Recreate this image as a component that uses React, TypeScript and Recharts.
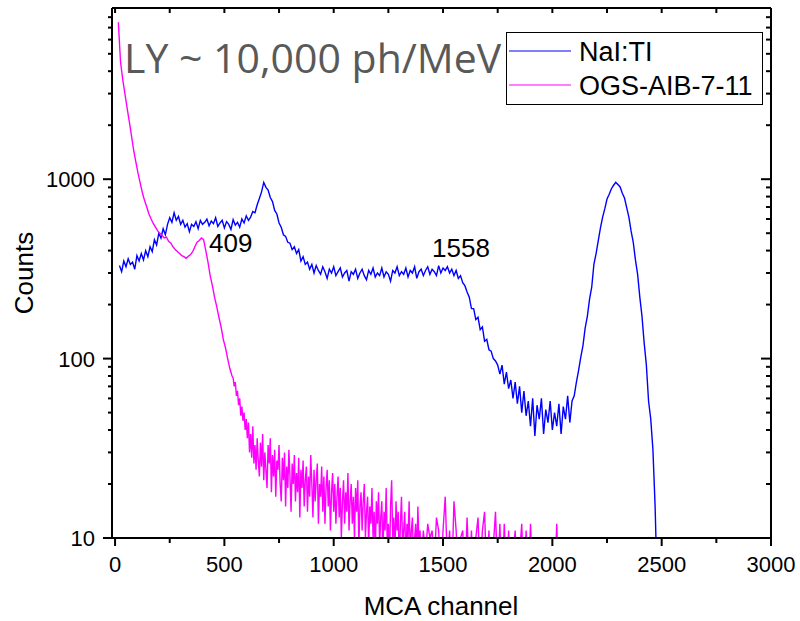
import { LineChart, Line, XAxis, YAxis } from "recharts"

// NaI:Tl spectrum, one value every 10 channels starting at channel 20
const NAI_START = 20
const NAI_STEP = 10
const NAI_COUNTS = [
	330, 305, 350, 325, 360, 335, 345, 315, 375, 350,
	385, 355, 400, 370, 420, 395, 460, 430, 500, 470,
	530, 490, 560, 610, 575, 650, 590, 620, 560, 590,
	540, 565, 510, 560, 545, 580, 530, 590, 560, 575,
	600, 550, 585, 565, 610, 545, 570, 590, 535, 580,
	560, 525, 595, 555, 575, 540, 600, 570, 625, 590,
	615, 660, 650, 720, 780, 850, 960, 900, 870, 790,
	750, 670, 640, 570, 540, 490, 480, 445, 440, 405,
	420, 385, 405, 350, 370, 335, 345, 315, 335, 300,
	330, 310, 295, 325, 305, 280, 315, 300, 325, 290,
	305, 320, 285, 300, 310, 270, 305, 295, 315, 280,
	300, 315, 290, 275, 310, 295, 320, 285, 300, 290,
	320, 285, 305, 295, 270, 310, 300, 325, 290, 305,
	295, 320, 285, 310, 300, 325, 280, 305, 315, 290,
	310, 325, 295, 315, 305, 290, 330, 300, 320, 310,
	325, 300, 315, 290, 310, 280, 290, 265, 255, 235,
	220, 190, 190, 165, 170, 145, 150, 125, 128, 112,
	110, 100, 97, 92, 82, 92, 72, 84, 68, 76,
	60, 74, 56, 70, 50, 66, 48, 58, 42, 60,
	37, 55, 46, 60, 38, 52, 44, 58, 40, 50,
	42, 56, 38, 54, 46, 62, 44, 58, 62, 74,
	86, 102, 118, 148, 172, 214, 250, 335, 385, 455,
	535, 615, 685, 775, 825, 885, 925, 960, 935, 905,
	835, 785, 695, 615, 515, 445, 355, 295, 220, 172,
	122, 92, 58, 46, 31, 15, 5,
]

// OGS-AIB-7-11 spectrum in three pieces: steep head, noisy band, sparse tail
const OGS_HEAD_START = 15
const OGS_HEAD_STEP = 10
const OGS_HEAD = [
	7500, 4500, 3600, 3000, 2500, 2100, 1750, 1450, 1250, 1080,
	950, 840, 760, 700, 640, 600, 565, 540, 515, 500,
	485, 470, 475, 450, 440, 420, 405, 395, 385, 375,
	370, 362, 372, 380, 395, 420, 445, 455, 470, 460,
	400, 345, 290, 255, 220, 195, 170, 150, 128, 115,
	100, 88, 80,
]

const OGS_BAND_START = 540
const OGS_BAND_STEP = 5
const OGS_BAND = [
	78, 70, 74, 62, 66, 55, 60, 48, 54, 45,
	50, 40, 46, 36, 44, 30, 38, 28, 42, 26,
	33, 24, 36, 27, 22, 34, 25, 38, 21, 30,
	24, 19, 33, 26, 36, 18, 29, 22, 31, 17,
	27, 24, 33, 20, 16, 28, 21, 30, 15, 25,
	19, 31, 22, 14, 26, 20, 29, 16, 23, 18,
	28, 13, 24, 19, 27, 15, 21, 25, 14, 22,
	17, 29, 20, 13, 24, 16, 21, 26, 12, 20,
	17, 25, 14, 22, 12, 19, 24, 15, 21, 11,
	18, 23, 14, 20, 12, 17, 22, 13, 19, 10,
	16, 21, 12, 18, 14, 23, 11, 16, 20, 12,
	17, 10, 19, 14, 21, 9, 15, 18, 11, 16,
	20, 10, 14, 17, 9, 15, 12, 19, 10, 14,
	8, 16, 12, 18, 9, 13, 16, 8, 14, 11,
	19, 9, 12, 7, 15, 21, 10, 13, 8, 16,
	11, 14, 7, 12, 17, 9, 11, 14, 7, 12,
	10, 16, 8, 11, 13, 7, 10, 12, 8, 15,
	9, 11, 7,
]

const OGS_TAIL_START = 1410
const OGS_TAIL_STEP = 10
const OGS_TAIL = [
	11, 8, 12, 10, 11, 7, 13, 11, 6, 11,
	17, 7, 11, 6, 16, 11, 6, 10, 11, 6,
	13, 6, 11, 5, 10, 13, 6, 11, 14, 6,
	11, 5, 9, 14, 6, 12, 5, 12, 6, 11,
	5, 8, 11, 5, 8, 12, 5, 11, 5, 12,
	6, 5, 7, 6, 5, 7, 5, 6, 5, 6,
	5, 12, 5,
]

const X_TICKS = [0, 250, 500, 750, 1000, 1250, 1500, 1750, 2000, 2250, 2500, 2750, 3000]
const X_LABELS = [0, 500, 1000, 1500, 2000, 2500, 3000]
const Y_TICKS = [
	10, 20, 30, 40, 50, 60, 70, 80, 90,
	100, 200, 300, 400, 500, 600, 700, 800, 900,
	1000, 2000, 3000, 4000, 5000, 6000, 7000, 8000,
]
const Y_LABELS = [10, 100, 1000]

const toPoints = (values: number[], start: number, step: number) =>
	values.map((c, i) => ({ ch: start + i * step, counts: c }))

const naiData = toPoints(NAI_COUNTS, NAI_START, NAI_STEP)
const ogsData = [
	...toPoints(OGS_HEAD, OGS_HEAD_START, OGS_HEAD_STEP),
	...toPoints(OGS_BAND, OGS_BAND_START, OGS_BAND_STEP),
	...toPoints(OGS_TAIL, OGS_TAIL_START, OGS_TAIL_STEP),
]

const FONT = "'Liberation Sans', Arial, sans-serif"
const AXIS_LINE = { stroke: "#000", strokeWidth: 2 }

// tickSize and tickMargin are 0, so x/y here sit on the axis line itself
function BottomTick({ x, y, payload }: any) {
	const major = X_LABELS.includes(payload.value)
	return (
		<g>
			<line x1={x} y1={y} x2={x} y2={y + (major ? 8 : 5)} stroke="#000" strokeWidth={2} />
			{major && (
				<text x={x} y={y + 34} textAnchor="middle" fontSize={22} fontFamily={FONT} fill="#000">
					{payload.value}
				</text>
			)}
		</g>
	)
}

function LeftTick({ x, y, payload }: any) {
	const major = Y_LABELS.includes(payload.value)
	return (
		<g>
			<line x1={x - (major ? 9 : 4)} y1={y} x2={x} y2={y} stroke="#000" strokeWidth={2} />
			{major && (
				<text x={x - 17} y={y + 8} textAnchor="end" fontSize={22} fontFamily={FONT} fill="#000">
					{payload.value}
				</text>
			)}
		</g>
	)
}

function TopTick({ x, y }: any) {
	return <line x1={x} y1={y} x2={x} y2={y + 5} stroke="#000" strokeWidth={2} />
}

function RightTick({ x, y, payload }: any) {
	const major = Y_LABELS.includes(payload.value)
	return <line x1={x - (major ? 10 : 5)} y1={y} x2={x} y2={y} stroke="#000" strokeWidth={2} />
}

export default function App() {
	return (
		<div style={{ position: "absolute", left: 0, top: 0, width: 800, height: 621, background: "#fff" }}>
			<LineChart width={800} height={621} margin={{ top: 8, right: 29, bottom: 82, left: 111 }}>
				<XAxis
					xAxisId="b"
					type="number"
					dataKey="ch"
					domain={[-14, 3000]}
					allowDataOverflow
					ticks={X_TICKS}
					interval={0}
					height={1}
					tickSize={0}
					tickMargin={0}
					tickLine={false}
					axisLine={AXIS_LINE}
					tick={<BottomTick />}
				/>
				<XAxis
					xAxisId="t"
					orientation="top"
					mirror
					type="number"
					dataKey="ch"
					domain={[-14, 3000]}
					allowDataOverflow
					ticks={X_TICKS}
					interval={0}
					height={1}
					tickSize={0}
					tickMargin={0}
					tickLine={false}
					axisLine={AXIS_LINE}
					tick={<TopTick />}
				/>
				<YAxis
					yAxisId="l"
					type="number"
					scale="log"
					domain={[10, 9000]}
					allowDataOverflow
					ticks={Y_TICKS}
					interval={0}
					width={1}
					tickSize={0}
					tickMargin={0}
					tickLine={false}
					axisLine={AXIS_LINE}
					tick={<LeftTick />}
				/>
				<YAxis
					yAxisId="r"
					orientation="right"
					mirror
					type="number"
					scale="log"
					domain={[10, 9000]}
					allowDataOverflow
					ticks={Y_TICKS}
					interval={0}
					width={1}
					tickSize={0}
					tickMargin={0}
					tickLine={false}
					axisLine={AXIS_LINE}
					tick={<RightTick />}
				/>
				<Line
					xAxisId="b"
					yAxisId="l"
					data={naiData}
					dataKey="counts"
					stroke="#0000ff"
					strokeWidth={1.4}
					dot={false}
					isAnimationActive={false}
				/>
				<Line
					xAxisId="b"
					yAxisId="l"
					data={ogsData}
					dataKey="counts"
					stroke="#ff00ff"
					strokeWidth={1.4}
					dot={false}
					isAnimationActive={false}
				/>
			</LineChart>

			{/* titles, annotations and legend */}
			<svg width={800} height={621} style={{ position: "absolute", left: 0, top: 0, pointerEvents: "none" }}>
				<text x={124} y={73} fontSize={41} fontFamily="'Open Sans', sans-serif" fill="#595959">
					LY ~ 10,000 ph/MeV
				</text>
				<text x={209} y={252} fontSize={26} fontFamily={FONT} fill="#000">409</text>
				<text x={432} y={257} fontSize={26} fontFamily={FONT} fill="#000">1558</text>
				<text x={441} y={615} textAnchor="middle" fontSize={26} fontFamily={FONT} fill="#000">MCA channel</text>
				<text
					x={33}
					y={273}
					textAnchor="middle"
					fontSize={26}
					fontFamily={FONT}
					fill="#000"
					transform="rotate(-90 33 273)"
				>
					Counts
				</text>

				<rect x={506.5} y={32.5} width={256} height={72} fill="#fff" stroke="#000" strokeWidth={1} />
				<line x1={509} y1={51} x2={571} y2={51} stroke="#0000ff" strokeWidth={1} />
				<text x={579} y={61} fontSize={27} fontFamily={FONT} fill="#000">NaI:TI</text>
				<line x1={509} y1={85} x2={571} y2={85} stroke="#ff00ff" strokeWidth={1} />
				<text x={579} y={95} fontSize={27} fontFamily={FONT} fill="#000">OGS-AIB-7-11</text>
			</svg>
		</div>
	)
}
